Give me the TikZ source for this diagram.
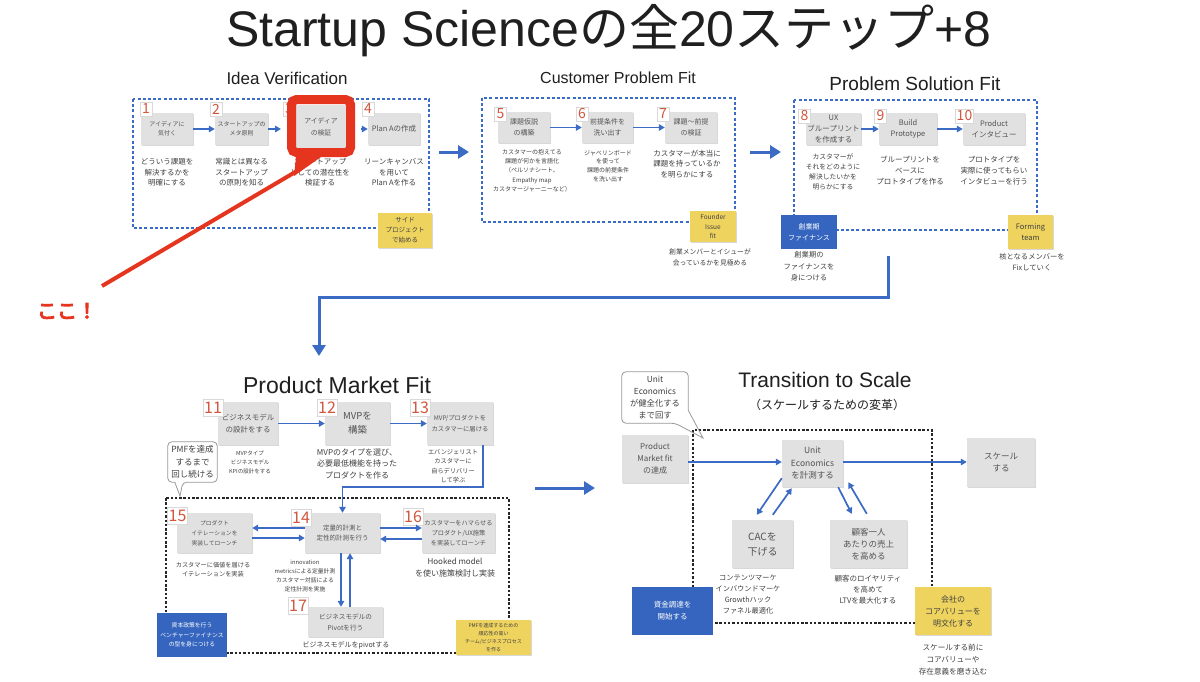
\documentclass[tikz,border=0pt]{standalone}
\usepackage{fontspec}
\setmainfont{Noto Sans CJK JP}
\newfontfamily\lib{Liberation Sans}
\usetikzlibrary{arrows.meta,calc,shadows}
\definecolor{bx}{HTML}{E1E1E1}
\definecolor{bl}{HTML}{3B6BC4}
\definecolor{blbox}{HTML}{3565BE}
\definecolor{yl}{HTML}{EFD35F}
\definecolor{nred}{HTML}{D2553D}
\definecolor{tx}{HTML}{404040}
\definecolor{redc}{HTML}{E6351F}
\newcommand\fz[2]{\fontsize{#1}{#2}\selectfont}
\newcommand\strongtext[1]{\special{pdf:literal direct 2 Tr 1.1 w}#1\special{pdf:literal direct 0 Tr}}
\tikzset{
  gbox/.style={fill=bx, draw=none, inner sep=0, align=center, text=tx!90,
    drop shadow={shadow xshift=0.7pt,shadow yshift=-0.9pt,opacity=0.25,fill=black!60}},
  gb/.style 2 args={gbox, minimum width=#1, minimum height=#2},
  yb/.style 2 args={fill=yl, inner sep=0, align=center, text=tx, minimum width=#1, minimum height=#2,
    drop shadow={shadow xshift=0.7pt,shadow yshift=-0.9pt,opacity=0.25,fill=black!60}},
  bb/.style 2 args={fill=blbox, inner sep=0, align=center, text=white, minimum width=#1, minimum height=#2},
  ntag/.style={fill=white, draw=black!15, inner sep=1.2, minimum height=14, minimum width=12, text=nred, font=\fz{14}{14},
    drop shadow={shadow xshift=0.5pt,shadow yshift=-0.6pt,opacity=0.2,fill=black!60}},
  ptag/.style={ntag, minimum height=17, font=\fz{16}{16}},
  dsc/.style={align=center, inner sep=0, text=tx},
  arr/.style={draw=bl, line width=1.7, -{Triangle[length=6,width=6.5]}},
  bigarr/.style={draw=bl, line width=3, -{Triangle[length=11,width=13]}},
  bdash/.style={draw=bl, line width=1.5, dash pattern=on 3pt off 2.2pt},
  kdash/.style={draw=black!85, line width=1.8, dash pattern=on 2.5pt off 1.8pt},
  sect/.style={text=black!88, inner sep=0},
  caltxt/.style={align=center, inner sep=0, text=tx},
  calline/.style={draw=black!40, line width=0.8},
}
\begin{document}
\begin{tikzpicture}[x=1pt,y=-1pt]
\path[use as bounding box, fill=white] (0,0) rectangle (1200,681);

% ---------- title
\node[sect, font=\lib\fz{50}{54}] (title) at (609,31) {Startup Science{\rmfamily の全}20{\rmfamily ステップ}+8};

% ---------- Idea Verification
\node[sect, font=\lib\fz{17}{20}] (s1) at (287,78) {Idea Verification};
\draw[bdash] (133,99) rectangle (429,228);
\node[gb={52}{32}, font=\fz{6}{9}] (b1) at (167,129) {アイディアに\\気付く};
\node[gb={53}{32}, font=\fz{6}{9}] (b2) at (241.5,129) {スタートアップの\\メタ原則};
\node[ntag] (t3) at (289,109) {3};
\node[gb={52}{43}, font=\fz{6.8}{12}] (b3) at (321,126.5) {アイディア\\の検証};
\node[gb={52}{32}, font=\fz{7.5}{10}] (b4) at (394,129) {Plan Aの作成};
\node[ntag] (t1) at (146,109) {1};
\node[ntag] (t2) at (216,109) {2};
\node[ntag] (t4) at (368,109) {4};
\node[dsc, font=\fz{7.5}{10.5}] (d1) at (167,172.5) {どういう課題を\\解決するかを\\明確にする};
\node[dsc, font=\fz{7.5}{10.5}] (d2) at (241.5,172.5) {常識とは異なる\\スタートアップ\\の原則を知る};
\node[dsc, font=\fz{7.5}{10.5}] (d3) at (320,172.5) {スタートアップ\\としての潜在性を\\検証する};
\node[dsc, font=\fz{7.5}{10.5}] (d4) at (394,172.5) {リーンキャンバス\\を用いて\\Plan Aを作る};
\node[yb={54}{35}, font=\fz{6.5}{10}] (y1) at (405,230.5) {サイド\\プロジェクト\\で始める};
\draw[arr] (b1) -- (b2);

% ---------- Customer Problem Fit
\node[sect, font=\lib\fz{16}{19}] (s2) at (618,78) {Customer Problem Fit};
\draw[bdash] (482,98) rectangle (735,222);
\node[gb={52}{31}, font=\fz{7}{10.5}] (b5) at (524,127.5) {課題仮説\\の構築};
\node[gb={51}{31}, font=\fz{7}{10.5}] (b6) at (607.5,127.5) {前提条件を\\洗い出す};
\node[gb={52}{31}, font=\fz{7}{10.5}] (b7) at (691,127.5) {課題〜前提\\の検証};
\node[ntag] (t5) at (500.5,114) {5};
\node[ntag] (t6) at (582,114) {6};
\node[ntag] (t7) at (663,114) {7};
\draw[arr] (b5) -- (b6);
\draw[arr] (b6) -- (b7);
\node[dsc, font=\fz{6}{9.3}] (d5) at (532,170.5) {カスタマーの抱えてる\\課題が何かを言語化\\（ペルソナシート、\\Empathy map\\カスタマージャーニーなど）};
\node[dsc, font=\fz{6}{8.7}] (d6) at (608,166) {ジャベリンボード\\を使って\\課題の前提条件\\を洗い出す};
\node[dsc, font=\fz{7.5}{10.5}] (d7) at (687,164) {カスタマーが本当に\\課題を持っているか\\を明らかにする};
\node[yb={46}{31}, font=\fz{6.5}{9.5}] (y2) at (713,226.5) {Founder\\Issue\\fit};
\node[dsc, font=\fz{6.8}{11}] (d2b) at (710,257.5) {創業メンバーとイシューが\\会っているかを見極める};

% ---------- Problem Solution Fit
\node[sect, font=\lib\fz{19}{22}] (s3) at (915,84) {Problem Solution Fit};
\draw[bdash] (794,100) rectangle (1037,230);
\node[gb={55}{32}, font=\fz{7.5}{10.6}] (b8) at (833.5,129) {UX\\ブループリント\\を作成する};
\node[gb={58}{32}, font=\fz{7.5}{11}] (b9) at (908,129) {Build\\Prototype};
\node[gb={62}{32}, font=\fz{7.5}{11}] (b10) at (994,129) {Product\\インタビュー};
\node[ntag] (t8) at (804.5,116) {8};
\node[ntag] (t9) at (880.5,116) {9};
\node[ntag] (t10) at (964.5,116) {10};
\draw[arr] (b8) -- (b9);
\draw[arr] (b9) -- (b10);
\node[dsc, font=\fz{6.8}{10}] (d8) at (833,172) {カスタマーが\\それをどのように\\解決したいかを\\明らかにする};
\node[dsc, font=\fz{7.5}{11}] (d9) at (910,171) {ブループリントを\\ベースに\\プロトタイプを作る};
\node[dsc, font=\fz{7.5}{11}] (d10) at (994,171) {プロトタイプを\\実際に使ってもらい\\インタビューを行う};
\node[bb={56}{34}, font=\fz{7}{11}] (bb1) at (809,232) {創業期\\ファイナンス};
\node[yb={45}{34}, font=\fz{7.5}{11}] (y3) at (1030.5,232) {Forming\\team};
\node[dsc, font=\fz{7.3}{11.5}] (d11b) at (809,266.5) {創業期の\\ファイナンスを\\身につける};
\node[dsc, font=\fz{7.3}{11}] (d12b) at (1032,262.5) {核となるメンバーを\\Fixしていく};

% ---------- section arrows
\coordinate (g1a) at (439,152); \coordinate (g1b) at (469,152);
\coordinate (g2a) at (750,152); \coordinate (g2b) at (781,152);
\draw[bigarr] (g1a) -- (g1b);
\draw[bigarr] (g2a) -- (g2b);
\coordinate (c1) at (888,256); \coordinate (c4) at (319,356);
\draw[bigarr] (c1) |- ($(c4)+(0,-59)$) -- (c4);

% ---------- Product Market Fit
\node[sect, font=\lib\fz{23}{26}] (s4) at (337,385) {Product Market Fit};
\node[gb={60}{43}, font=\fz{7.5}{12}] (b11) at (248,423.5) {ビジネスモデル\\の設計をする};
\node[gb={65}{43}, font=\fz{9.5}{14}] (b12) at (357.5,423.5) {MVPを\\構築};
\node[gb={66}{43}, font=\fz{6.3}{11}] (b13) at (460,423.5) {MVP/プロダクトを\\カスタマーに届ける};
\node[ptag] (t11) at (213,408) {11};
\node[ptag] (t12) at (327,408) {12};
\node[ptag] (t13) at (420,408) {13};
\draw[arr] (b11) -- (b12);
\draw[arr] (b12) -- (b13);
\node[dsc, font=\fz{5.5}{9}] (d11) at (250,462) {MVPタイプ\\ビジネスモデル\\KPIの設計をする};
\node[dsc, font=\fz{8}{11.5}] (d12) at (357,463.5) {MVPのタイプを選び、\\必要最低機能を持った\\プロダクトを作る};
\node[dsc, font=\fz{6.2}{9.5}] (d13) at (453,466) {エバンジェリスト\\カスタマーに\\自らデリバリー\\して学ぶ};

\draw[kdash] (166,498) rectangle (509,653);
\node[caltxt, minimum width=49, minimum height=40, font=\fz{8.5}{12.5}] (cb1) at (192.5,462) {PMFを達成\\するまで\\回し続ける};
\coordinate (cb1t) at (180,496);
\draw[calline, rounded corners=4] ($(cb1.south west)+(7,0)$) -- (cb1.south west) -- (cb1.north west) -- (cb1.north east) -- (cb1.south east) -- ($(cb1.south west)+(15,0)$) [sharp corners] -- (cb1t) -- cycle;

\node[gb={75}{40}, font=\fz{5.8}{10}] (b15) at (214.5,533) {プロダクト\\イテレーションを\\実装してローンチ};
\node[gb={75}{40}, font=\fz{6.5}{10.5}] (b14) at (342.5,533) {定量的計測と\\定性的計測を行う};
\node[gb={73}{40}, font=\fz{6.2}{10}] (b16) at (458.5,533) {カスタマーをハマらせる\\プロダクト/UX施策\\を実装してローンチ};
\node[gb={75}{30}, font=\fz{6.6}{11}] (b17) at (345.5,622) {ビジネスモデルの\\Pivotを行う};
\node[ptag] (t15) at (177.5,515.5) {15};
\node[ptag] (t14) at (301,517.5) {14};
\node[ptag] (t16) at (413,517) {16};
\node[ptag] (t17) at (298,606) {17};
\draw[arr] ($(b13.south)+(23,0)$) |- ($(b14.north)+(0,-26)$) -- (b14.north);
\draw[arr] ($(b14.west)+(0,-5)$) -- ($(b15.east)+(0,-5)$);
\draw[arr] ($(b15.east)+(0,5)$) -- ($(b14.west)+(0,5)$);
\draw[arr] ($(b14.east)+(0,-5)$) -- ($(b16.west)+(0,-5)$);
\draw[arr] ($(b16.west)+(0,6)$) -- ($(b14.east)+(0,6)$);
\draw[arr] ($(b14.south)+(-1.5,0)$) -- ($(b17.north)+(-4.5,0)$);
\draw[arr] ($(b17.north)+(4.5,0)$) -- ($(b14.south)+(7.5,0)$);
\node[dsc, font=\fz{6.2}{9.5}] (d15) at (213,569.5) {カスタマーに価値を届ける\\イテレーションを実装};
\node[dsc, font=\fz{5.8}{8.8}] (d14) at (305,576) {innovation\\metricsによる定量計測\\カスタマー対話による\\定性計測を実施};
\node[dsc, font=\fz{8}{12}] (d16) at (455,568) {Hooked model\\を使い施策検討し実装};
\node[dsc, font=\fz{7}{9}] (d17) at (346,645) {ビジネスモデルをpivotする};
\node[bb={70}{44}, font=\fz{5.8}{9.5}] (bb2) at (192,635) {資本政策を行う\\ベンチャーファイナンス\\の型を身につける};
\node[yb={75}{35}, font=\fz{5}{8}] (y4) at (493.5,637.5) {PMFを達成するための\\順応性の高い\\チーム/ビジネスプロセス\\を作る};

\coordinate (g3a) at (535,488); \coordinate (g3b) at (595,488);
\draw[bigarr] (g3a) -- (g3b);

% ---------- Transition to Scale
\node[sect, font=\lib\fz{21}{24}] (s5) at (825,380) {Transition to Scale};
\node[sect, font=\fz{12}{14}] (s5b) at (827,405) {（スケールするための変革）};
\draw[kdash] (693,430) rectangle (932,623);
\node[caltxt, minimum width=66, minimum height=51, font=\fz{8.3}{12}] (cb2) at (655,397.5) {Unit\\Economics\\が健全化する\\まで回す};
\coordinate (cb2t) at (703,438);
\draw[calline, rounded corners=4] ($(cb2.south east)+(0,-13)$) -- (cb2.north east) -- (cb2.north west) -- (cb2.south west) -- ($(cb2.south east)+(-13,0)$) [sharp corners] -- (cb2t) -- cycle;

\node[gb={66}{48}, font=\fz{8}{12}] (bpmf) at (655,459) {Product\\Market fit\\の達成};
\node[gb={61}{47}, font=\fz{8.5}{12.5}] (bue) at (812.5,463.5) {Unit\\Economics\\を計測する};
\node[gb={68}{49}, font=\fz{8.5}{12.5}] (bsc) at (1001,462.5) {スケール\\する};
\node[gb={61}{48}, font=\fz{10}{15}] (bcac) at (762.5,544) {CACを\\下げる};
\node[gb={77}{48}, font=\fz{8.5}{12}] (bkok) at (868.5,544) {顧客一人\\あたりの売上\\を高める};
\draw[arr] ($(bpmf.east)+(0,3)$) -- ($(bue.west)+(0,-1.5)$);
\draw[arr] ($(bue.east)+(0,-1.5)$) -- ($(bsc.west)+(0,-0.5)$);
\draw[arr] ($(bue.south west)+(0,-9)$) -- ($(bcac.north west)+(25,-5)$);
\draw[arr] ($(bcac.north west)+(41,-5)$) -- ($(bue.south west)+(10,1)$);
\draw[arr] ($(bue.south east)+(-5,0)$) -- ($(bkok.north west)+(22,-6)$);
\draw[arr] ($(bkok.north west)+(37,-6)$) -- ($(bue.south east)+(5,-5)$);
\node[dsc, font=\fz{7.2}{11}] (dcac) at (748,594.5) {コンテンツマーケ\\インバウンドマーケ\\Growthハック\\ファネル最適化};
\node[dsc, font=\fz{7.5}{11}] (dkok) at (868,590) {顧客のロイヤリティ\\を高めて\\LTVを最大化する};
\node[bb={81}{48}, font=\fz{7.5}{12}] (bb3) at (672.5,611) {資金調達を\\開始する};
\node[yb={76}{48}, font=\fz{8}{12}] (y5) at (953,611) {会社の\\コアバリューを\\明文化する};
\node[dsc, font=\fz{7.6}{12}] (dy5) at (953,660) {スケールする前に\\コアバリューや\\存在意義を磨き込む};

% ---------- red highlight
\node[draw=redc, line width=9, rounded corners=5, minimum width=59, minimum height=53, inner sep=0] (frm) at (321,126) {};
\draw[arr] (b2.east) -- ($(b2.east -| frm.west)+(-6,0)$);
\draw[arr] ($(b4.west -| frm.east)+(6,0)$) -- (b4.west);
\coordinate (ptip) at (294,176);
\fill[redc] ($(frm.south west)+(9,0)$) -- ($(frm.south west)+(34,0)$) -- (ptip) -- cycle;
\coordinate (kk) at (102,286);
\draw[redc, line width=4] ($(ptip)+(3,-5)$) -- (kk);
\node[text=redc, font=\fz{20}{21}, inner sep=0] (koko) at (67,311) {\strongtext{ここ！}};
\end{tikzpicture}
\end{document}
